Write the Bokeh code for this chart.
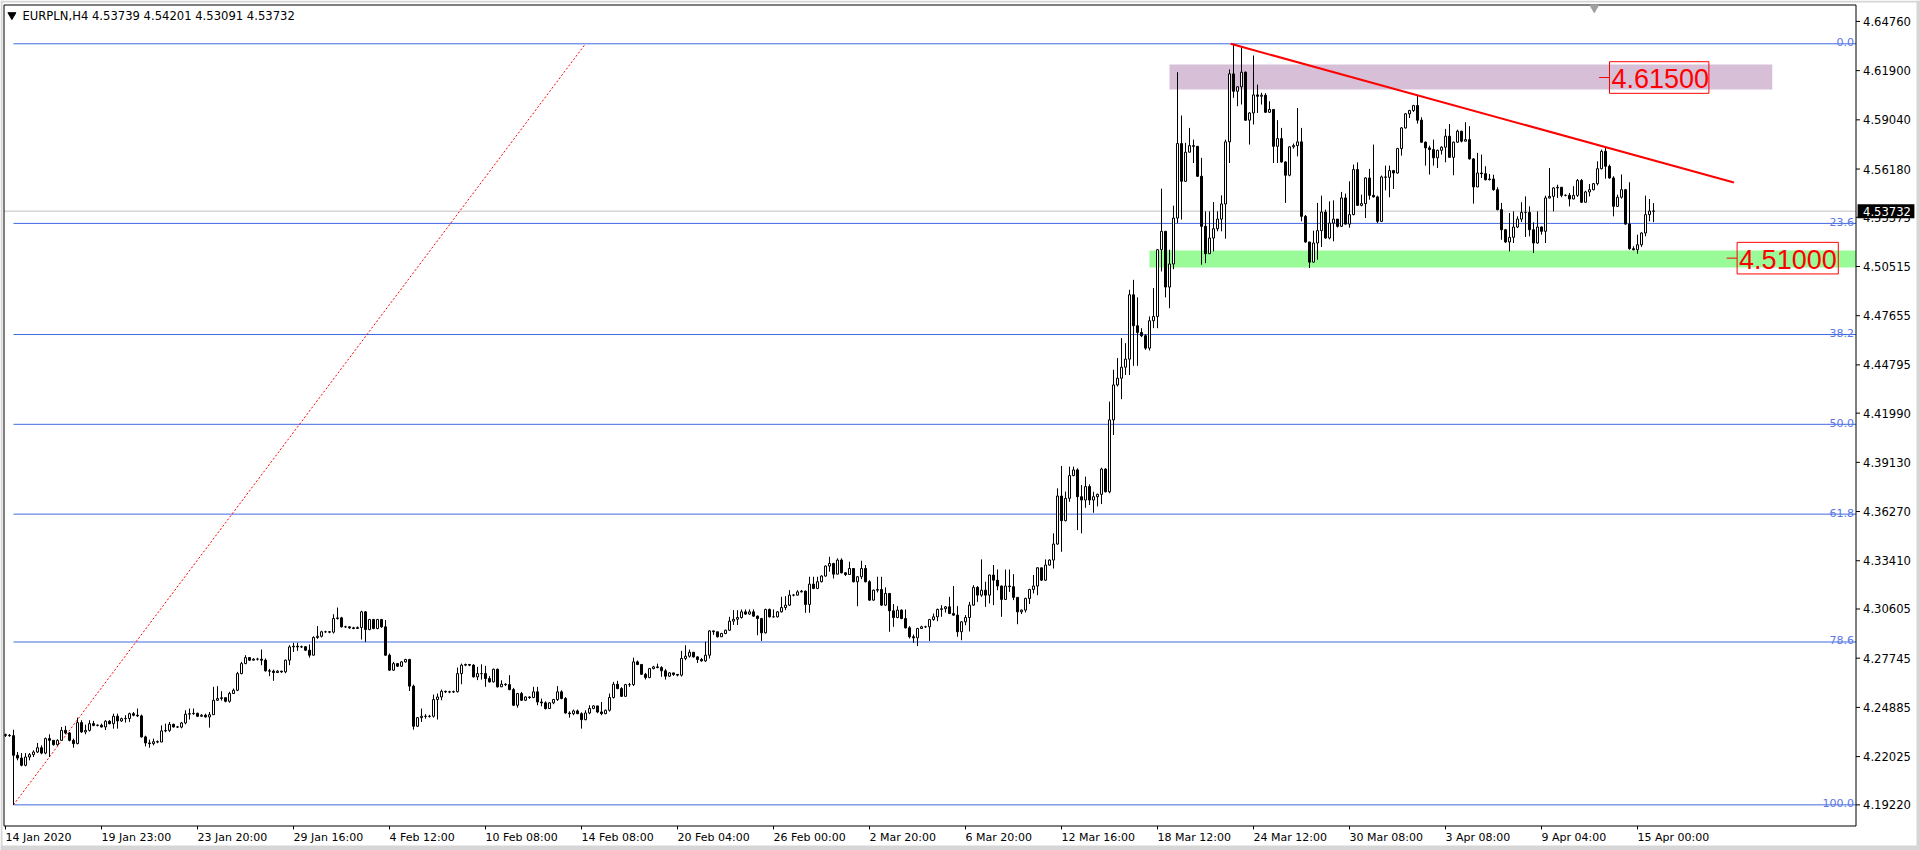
import numpy as np
from bokeh.plotting import figure
from bokeh.models import Range1d
from bokeh.core.properties import value
from bokeh.embed import file_html
from bokeh.resources import INLINE

# ---------------- data ----------------
SYMBOL = "EURPLN,H4"
first_open = 4.2330

close = [
    4.2326, 4.2324, 4.2210, 4.2194, 4.2152, 4.2200, 4.2214, 4.2229, 4.2254, 4.2223,  # 0
    4.2307, 4.2297, 4.2272, 4.2297, 4.2355, 4.2340, 4.2297, 4.2278, 4.2400, 4.2346,  # 10
    4.2355, 4.2394, 4.2384, 4.2385, 4.2375, 4.2408, 4.2394, 4.2437, 4.2410, 4.2423,  # 20
    4.2424, 4.2452, 4.2443, 4.2439, 4.2317, 4.2282, 4.2278, 4.2289, 4.2287, 4.2352,  # 30
    4.2355, 4.2390, 4.2375, 4.2374, 4.2398, 4.2449, 4.2452, 4.2454, 4.2437, 4.2443,  # 40
    4.2433, 4.2446, 4.2530, 4.2540, 4.2545, 4.2524, 4.2569, 4.2588, 4.2685, 4.2743,  # 50
    4.2778, 4.2763, 4.2769, 4.2769, 4.2763, 4.2701, 4.2699, 4.2691, 4.2699, 4.2695,  # 60
    4.2763, 4.2840, 4.2844, 4.2840, 4.2841, 4.2821, 4.2792, 4.2895, 4.2902, 4.2928,  # 70
    4.2928, 4.2926, 4.3005, 4.3009, 4.2957, 4.2957, 4.2951, 4.2947, 4.2953, 4.3044,  # 80
    4.2941, 4.2999, 4.2947, 4.2999, 4.2957, 4.2792, 4.2705, 4.2743, 4.2728, 4.2753,  # 90
    4.2767, 4.2612, 4.2379, 4.2429, 4.2437, 4.2436, 4.2437, 4.2534, 4.2549, 4.2582,  # 100
    4.2579, 4.2578, 4.2580, 4.2685, 4.2734, 4.2738, 4.2734, 4.2666, 4.2685, 4.2685,  # 110
    4.2656, 4.2637, 4.2710, 4.2608, 4.2623, 4.2621, 4.2592, 4.2501, 4.2569, 4.2530,  # 120
    4.2549, 4.2546, 4.2579, 4.2520, 4.2515, 4.2482, 4.2515, 4.2534, 4.2579, 4.2540,  # 130
    4.2456, 4.2452, 4.2468, 4.2452, 4.2417, 4.2456, 4.2482, 4.2497, 4.2462, 4.2452,  # 140
    4.2472, 4.2546, 4.2623, 4.2598, 4.2553, 4.2621, 4.2621, 4.2753, 4.2738, 4.2681,  # 150
    4.2662, 4.2714, 4.2724, 4.2720, 4.2701, 4.2670, 4.2689, 4.2680, 4.2676, 4.2773,  # 160
    4.2786, 4.2809, 4.2782, 4.2767, 4.2759, 4.2792, 4.2933, 4.2928, 4.2899, 4.2918,  # 170
    4.2937, 4.2990, 4.3001, 4.3011, 4.3044, 4.3031, 4.3044, 4.3019, 4.3005, 4.2922,  # 180
    4.3058, 4.3015, 4.3015, 4.3044, 4.3069, 4.3083, 4.3141, 4.3141, 4.3160, 4.3164,  # 190
    4.3087, 4.3205, 4.3180, 4.3219, 4.3252, 4.3310, 4.3325, 4.3263, 4.3345, 4.3271,  # 200
    4.3261, 4.3296, 4.3219, 4.3248, 4.3296, 4.3219, 4.3112, 4.3170, 4.3174, 4.3083,  # 210
    4.3151, 4.3050, 4.3011, 4.3054, 4.3005, 4.2951, 4.2899, 4.2893, 4.2947, 4.2957,  # 220
    4.2957, 4.2999, 4.3015, 4.3058, 4.3062, 4.3073, 4.3034, 4.3025, 4.2928, 4.2986,  # 230
    4.3011, 4.3083, 4.3186, 4.3141, 4.3170, 4.3141, 4.3258, 4.3228, 4.3194, 4.3116,  # 240
    4.3194, 4.3190, 4.3128, 4.3044, 4.3054, 4.3122, 4.3174, 4.3194, 4.3300, 4.3228,  # 250
    4.3316, 4.3345, 4.3438, 4.3717, 4.3574, 4.3704, 4.3836, 4.3869, 4.3713, 4.3694,  # 260
    4.3772, 4.3694, 4.3713, 4.3727, 4.3874, 4.3742, 4.4160, 4.4363, 4.4402, 4.4466,  # 270
    4.4513, 4.4887, 4.4707, 4.4668, 4.4649, 4.4577, 4.4736, 4.4761, 4.5149, 4.5256,  # 280
    4.4932, 4.5066, 4.5333, 4.5766, 4.5547, 4.5716, 4.5754, 4.5750, 4.5576, 4.5285,  # 290
    4.5126, 4.5217, 4.5271, 4.5327, 4.5415, 4.5776, 4.6171, 4.6070, 4.6096, 4.6181,  # 300
    4.5902, 4.5944, 4.6049, 4.6041, 4.6047, 4.5948, 4.5964, 4.5750, 4.5795, 4.5659,  # 310
    4.5582, 4.5747, 4.5754, 4.5776, 4.5343, 4.5194, 4.5077, 4.5188, 4.5260, 4.5368,  # 320
    4.5217, 4.5304, 4.5327, 4.5285, 4.5450, 4.5298, 4.5353, 4.5615, 4.5407, 4.5417,  # 330
    4.5566, 4.5465, 4.5456, 4.5314, 4.5572, 4.5570, 4.5609, 4.5595, 4.5737, 4.5857,  # 340
    4.5939, 4.5958, 4.5987, 4.5902, 4.5774, 4.5741, 4.5731, 4.5683, 4.5727, 4.5745,  # 350
    4.5809, 4.5686, 4.5774, 4.5838, 4.5780, 4.5789, 4.5677, 4.5514, 4.5595, 4.5591,  # 360
    4.5556, 4.5560, 4.5498, 4.5382, 4.5265, 4.5194, 4.5221, 4.5281, 4.5327, 4.5366,  # 370
    4.5366, 4.5265, 4.5188, 4.5281, 4.5256, 4.5450, 4.5459, 4.5508, 4.5512, 4.5465,  # 380
    4.5465, 4.5444, 4.5465, 4.5551, 4.5425, 4.5485, 4.5498, 4.5533, 4.5620, 4.5721,  # 390
    4.5634, 4.5566, 4.5401, 4.5454, 4.5498, 4.5298, 4.5155, 4.5149, 4.5178, 4.5246,  # 400
    4.5353, 4.53739, 4.53732,                                                         # 410
]

high = [
    4.2336, 4.2334, 4.2359, 4.2229, 4.2223, 4.2223, 4.2223, 4.2239, 4.2282, 4.2268,
    4.2313, 4.2332, 4.2297, 4.2303, 4.2375, 4.2381, 4.2346, 4.2307, 4.2429, 4.2414,
    4.2388, 4.2414, 4.2410, 4.2390, 4.2394, 4.2414, 4.2414, 4.2452, 4.2452, 4.2429,
    4.2443, 4.2458, 4.2462, 4.2482, 4.2447, 4.2324, 4.2301, 4.2307, 4.2297, 4.2384,
    4.2394, 4.2404, 4.2394, 4.2381, 4.2404, 4.2472, 4.2482, 4.2482, 4.2458, 4.2450,
    4.2452, 4.2462, 4.2608, 4.2612, 4.2583, 4.2545, 4.2579, 4.2598, 4.2695, 4.2753,
    4.2792, 4.2777, 4.2775, 4.2777, 4.2825, 4.2773, 4.2712, 4.2708, 4.2705, 4.2701,
    4.2767, 4.2850, 4.2864, 4.2864, 4.2848, 4.2844, 4.2854, 4.2902, 4.2961, 4.2934,
    4.2934, 4.2932, 4.3030, 4.3069, 4.3015, 4.2963, 4.2959, 4.2957, 4.2959, 4.3050,
    4.3048, 4.3003, 4.3003, 4.3003, 4.3003, 4.2996, 4.2802, 4.2753, 4.2747, 4.2757,
    4.2771, 4.2771, 4.2621, 4.2433, 4.2482, 4.2449, 4.2445, 4.2563, 4.2569, 4.2592,
    4.2586, 4.2585, 4.2586, 4.2720, 4.2743, 4.2743, 4.2741, 4.2740, 4.2724, 4.2739,
    4.2730, 4.2670, 4.2714, 4.2714, 4.2646, 4.2629, 4.2676, 4.2602, 4.2573, 4.2579,
    4.2553, 4.2553, 4.2608, 4.2608, 4.2540, 4.2524, 4.2518, 4.2538, 4.2612, 4.2588,
    4.2549, 4.2466, 4.2476, 4.2476, 4.2460, 4.2472, 4.2501, 4.2501, 4.2497, 4.2520,
    4.2476, 4.2569, 4.2637, 4.2643, 4.2606, 4.2625, 4.2631, 4.2778, 4.2761, 4.2741,
    4.2689, 4.2718, 4.2730, 4.2743, 4.2728, 4.2712, 4.2693, 4.2687, 4.2683, 4.2817,
    4.2850, 4.2825, 4.2809, 4.2786, 4.2776, 4.2870, 4.2937, 4.2934, 4.2918, 4.2922,
    4.2941, 4.3015, 4.3054, 4.3054, 4.3058, 4.3058, 4.3058, 4.3058, 4.3023, 4.3009,
    4.3062, 4.3063, 4.3058, 4.3048, 4.3131, 4.3135, 4.3170, 4.3148, 4.3170, 4.3171,
    4.3168, 4.3248, 4.3248, 4.3248, 4.3256, 4.3314, 4.3364, 4.3329, 4.3355, 4.3355,
    4.3271, 4.3335, 4.3294, 4.3252, 4.3341, 4.3316, 4.3228, 4.3174, 4.3248, 4.3248,
    4.3186, 4.3151, 4.3089, 4.3077, 4.3058, 4.3058, 4.2961, 4.2912, 4.2951, 4.2963,
    4.2963, 4.3003, 4.3034, 4.3063, 4.3083, 4.3077, 4.3131, 4.3194, 4.3077, 4.2990,
    4.3025, 4.3102, 4.3199, 4.3194, 4.3349, 4.3219, 4.3261, 4.3316, 4.3290, 4.3197,
    4.3290, 4.3290, 4.3263, 4.3126, 4.3058, 4.3126, 4.3178, 4.3258, 4.3304, 4.3300,
    4.3349, 4.3349, 4.3500, 4.3762, 4.3892, 4.3743, 4.3888, 4.3888, 4.3878, 4.3781,
    4.3830, 4.3785, 4.3742, 4.3731, 4.3882, 4.3878, 4.4266, 4.4451, 4.4519, 4.4635,
    4.4606, 4.4916, 4.4974, 4.4872, 4.4693, 4.4658, 4.4761, 4.4926, 4.5153, 4.5504,
    4.5254, 4.5149, 4.5405, 4.6181, 4.5929, 4.5770, 4.5857, 4.5789, 4.5719, 4.5683,
    4.5372, 4.5372, 4.5426, 4.5372, 4.5465, 4.5789, 4.6197, 4.6346, 4.6100, 4.6332,
    4.6185, 4.5948, 4.6278, 4.6109, 4.6061, 4.6059, 4.6012, 4.5952, 4.5902, 4.5857,
    4.5663, 4.5750, 4.5766, 4.5973, 4.5857, 4.5351, 4.5192, 4.5260, 4.5421, 4.5463,
    4.5382, 4.5430, 4.5436, 4.5292, 4.5485, 4.5475, 4.5547, 4.5644, 4.5657, 4.5469,
    4.5570, 4.5619, 4.5760, 4.5463, 4.5580, 4.5638, 4.5638, 4.5613, 4.5741, 4.5861,
    4.5943, 4.5962, 4.5991, 4.6045, 4.5919, 4.5778, 4.5754, 4.5789, 4.5731, 4.5750,
    4.5851, 4.5880, 4.5778, 4.5847, 4.5787, 4.5890, 4.5867, 4.5681, 4.5712, 4.5702,
    4.5634, 4.5589, 4.5585, 4.5512, 4.5421, 4.5269, 4.5362, 4.5372, 4.5343, 4.5425,
    4.5459, 4.5401, 4.5308, 4.5372, 4.5285, 4.5463, 4.5624, 4.5512, 4.5527, 4.5469,
    4.5471, 4.5479, 4.5518, 4.5560, 4.5560, 4.5492, 4.5531, 4.5537, 4.5663, 4.5731,
    4.5747, 4.5644, 4.5576, 4.5469, 4.5586, 4.5502, 4.5541, 4.5169, 4.5236, 4.5250,
    4.5463, 4.5444, 4.54201,
]

low = [
    4.2317, 4.2318, 4.1922, 4.2181, 4.2146, 4.2146, 4.2181, 4.2200, 4.2223, 4.2216,
    4.2216, 4.2200, 4.2266, 4.2266, 4.2297, 4.2332, 4.2291, 4.2254, 4.2274, 4.2340,
    4.2332, 4.2348, 4.2379, 4.2378, 4.2371, 4.2357, 4.2390, 4.2365, 4.2365, 4.2404,
    4.2400, 4.2404, 4.2437, 4.2433, 4.2313, 4.2262, 4.2254, 4.2268, 4.2280, 4.2287,
    4.2344, 4.2346, 4.2371, 4.2369, 4.2367, 4.2390, 4.2418, 4.2445, 4.2433, 4.2435,
    4.2429, 4.2371, 4.2445, 4.2526, 4.2528, 4.2518, 4.2516, 4.2569, 4.2583, 4.2681,
    4.2740, 4.2759, 4.2763, 4.2761, 4.2734, 4.2697, 4.2670, 4.2643, 4.2693, 4.2689,
    4.2687, 4.2734, 4.2811, 4.2817, 4.2834, 4.2817, 4.2778, 4.2792, 4.2887, 4.2895,
    4.2922, 4.2920, 4.2918, 4.2999, 4.2953, 4.2951, 4.2945, 4.2943, 4.2945, 4.2883,
    4.2869, 4.2937, 4.2943, 4.2943, 4.2951, 4.2788, 4.2701, 4.2701, 4.2724, 4.2724,
    4.2749, 4.2584, 4.2359, 4.2375, 4.2404, 4.2423, 4.2429, 4.2429, 4.2418, 4.2530,
    4.2572, 4.2571, 4.2573, 4.2575, 4.2623, 4.2728, 4.2728, 4.2662, 4.2647, 4.2650,
    4.2608, 4.2633, 4.2633, 4.2604, 4.2615, 4.2613, 4.2588, 4.2497, 4.2487, 4.2526,
    4.2526, 4.2538, 4.2542, 4.2501, 4.2495, 4.2476, 4.2482, 4.2507, 4.2526, 4.2536,
    4.2452, 4.2429, 4.2443, 4.2449, 4.2365, 4.2414, 4.2449, 4.2478, 4.2455, 4.2443,
    4.2449, 4.2464, 4.2540, 4.2594, 4.2549, 4.2549, 4.2608, 4.2613, 4.2734, 4.2678,
    4.2651, 4.2658, 4.2710, 4.2716, 4.2666, 4.2650, 4.2666, 4.2672, 4.2669, 4.2668,
    4.2763, 4.2778, 4.2778, 4.2747, 4.2755, 4.2753, 4.2773, 4.2910, 4.2895, 4.2899,
    4.2914, 4.2933, 4.2968, 4.2967, 4.3005, 4.3027, 4.3027, 4.3015, 4.2908, 4.2875,
    4.2918, 4.3011, 4.3011, 4.3011, 4.3040, 4.3054, 4.3079, 4.3134, 4.3139, 4.3157,
    4.3038, 4.3038, 4.3176, 4.3176, 4.3215, 4.3248, 4.3277, 4.3238, 4.3263, 4.3267,
    4.3252, 4.3259, 4.3215, 4.3077, 4.3234, 4.3215, 4.3108, 4.3108, 4.3157, 4.3079,
    4.3079, 4.2928, 4.2957, 4.3007, 4.3001, 4.2947, 4.2889, 4.2864, 4.2845, 4.2950,
    4.2950, 4.2875, 4.2992, 4.2990, 4.3015, 4.3040, 4.3031, 4.3021, 4.2899, 4.2879,
    4.2966, 4.2930, 4.3079, 4.3102, 4.3131, 4.3073, 4.3093, 4.3083, 4.3170, 4.3015,
    4.3118, 4.3160, 4.3112, 4.2972, 4.3031, 4.3040, 4.3089, 4.3151, 4.3141, 4.3224,
    4.3224, 4.3312, 4.3296, 4.3434, 4.3393, 4.3570, 4.3684, 4.3832, 4.3519, 4.3500,
    4.3649, 4.3665, 4.3620, 4.3657, 4.3671, 4.3738, 4.3733, 4.4072, 4.4354, 4.4280,
    4.4421, 4.4421, 4.4474, 4.4474, 4.4641, 4.4567, 4.4563, 4.4693, 4.4693, 4.5023,
    4.4872, 4.4809, 4.5036, 4.5304, 4.5324, 4.5543, 4.5717, 4.5653, 4.5572, 4.5062,
    4.5071, 4.5126, 4.5139, 4.5256, 4.5256, 4.5213, 4.5653, 4.6032, 4.5983, 4.5993,
    4.5898, 4.5760, 4.5877, 4.5944, 4.5993, 4.5944, 4.5944, 4.5653, 4.5653, 4.5655,
    4.5421, 4.5576, 4.5737, 4.5692, 4.5314, 4.5190, 4.5042, 4.5074, 4.5091, 4.5165,
    4.5213, 4.5209, 4.5198, 4.5278, 4.5281, 4.5295, 4.5277, 4.5349, 4.5403, 4.5401,
    4.5333, 4.5440, 4.5452, 4.5304, 4.5310, 4.5494, 4.5454, 4.5502, 4.5591, 4.5696,
    4.5853, 4.5915, 4.5950, 4.5882, 4.5770, 4.5638, 4.5586, 4.5638, 4.5624, 4.5702,
    4.5657, 4.5683, 4.5582, 4.5770, 4.5773, 4.5785, 4.5673, 4.5417, 4.5514, 4.5566,
    4.5552, 4.5552, 4.5492, 4.5378, 4.5207, 4.5188, 4.5139, 4.5188, 4.5275, 4.5310,
    4.5223, 4.5227, 4.5130, 4.5184, 4.5236, 4.5188, 4.5446, 4.5372, 4.5450, 4.5454,
    4.5459, 4.5401, 4.5442, 4.5456, 4.5421, 4.5478, 4.5459, 4.5494, 4.5523, 4.5616,
    4.5562, 4.5562, 4.5343, 4.5397, 4.5446, 4.5295, 4.5149, 4.5145, 4.5126, 4.5165,
    4.5227, 4.5314, 4.53091,
]

last_open = 4.53739

date_labels = ["14 Jan 2020", "19 Jan 23:00", "23 Jan 20:00", "29 Jan 16:00",
               "4 Feb 12:00", "10 Feb 08:00", "14 Feb 08:00", "20 Feb 04:00",
               "26 Feb 00:00", "2 Mar 20:00", "6 Mar 20:00", "12 Mar 16:00",
               "18 Mar 12:00", "24 Mar 12:00", "30 Mar 08:00", "3 Apr 08:00",
               "9 Apr 04:00", "15 Apr 00:00"]
bars_per_label = 24

price_ticks = [4.64760, 4.61900, 4.59040, 4.56180, 4.53375, 4.50515, 4.47655,
               4.44795, 4.41990, 4.39130, 4.36270, 4.33410, 4.30605, 4.27745,
               4.24885, 4.22025, 4.19220]

fib_levels = [0.0, 23.6, 38.2, 50.0, 61.8, 78.6, 100.0]
fib_high = 4.6346
fib_low = 4.1922
fib_low_bar = 2
fib_high_bar = 145

resistance_bars = [291, 441.7]
resistance_prices = [4.6080, 4.6226]
resistance_level = 4.61500
support_bars = [286, 462.6]
support_prices = [4.5045, 4.5144]
support_level = 4.51000

trend_bars = [306.3, 432.1]
trend_prices = [4.6346, 4.5540]

# ---------------- scales / layout constants ----------------
PRICE_PER_PX = 0.0005813      # vertical scale (4 px per bar horizontally)
X0, X1 = -1.25, 478.75        # whole canvas, in bars
Y1 = 4.65977                  # canvas top, in price
Y0 = Y1 - 850 * PRICE_PER_PX  # canvas bottom
AXIS_BAR = 462.625            # right price-scale line
FRAME_LEFT = -0.375
FRAME_TOP = Y1 - 4.5 * PRICE_PER_PX
FRAME_BOTTOM = Y1 - 825.5 * PRICE_PER_PX

# ---------------- derived candle geometry ----------------
n = len(close)
idx = np.arange(n)
opens = [first_open] + close[:-1]
opens[-1] = last_open
hi = [max(h, o, c) for h, o, c in zip(high, opens, close)]
lo = [min(l, o, c) for l, o, c in zip(low, opens, close)]
body_top = [max(o, c) for o, c in zip(opens, close)]
body_bot = [min(o, c) for o, c in zip(opens, close)]
body_fill = ["white" if c >= o else "black" for o, c in zip(opens, close)]

# ---------------- figure ----------------
p = figure(width=1920, height=850, output_backend="svg", toolbar_location=None,
           tools="", x_range=Range1d(X0, X1), y_range=Range1d(Y0, Y1),
           x_axis_location=None, y_axis_location=None,
           min_border_left=0, min_border_right=0, min_border_top=0,
           min_border_bottom=0)
p.grid.visible = False
p.outline_line_color = None
p.background_fill_color = "white"
p.border_fill_color = "white"

FONT = value("DejaVu Sans")

# window edges
edge = "#D6D6D6"
p.quad(left=[X0, X0, X1 - 1.0, X0], right=[X1, X0 + 0.5, X1, X1],
       bottom=[Y1 - 2 * PRICE_PER_PX, Y0, Y0, Y0],
       top=[Y1, Y1, Y1, Y0 + 5 * PRICE_PER_PX],
       fill_color=edge, line_color=None)

# zones
p.quad(left=[resistance_bars[0]], right=[resistance_bars[1]],
       bottom=[resistance_prices[0]], top=[resistance_prices[1]],
       fill_color="#D8BFD8", line_color=None)
p.quad(left=[support_bars[0]], right=[support_bars[1]],
       bottom=[support_prices[0]], top=[support_prices[1]],
       fill_color="#98FB98", line_color=None)

# current price line
p.segment(x0=[FRAME_LEFT], x1=[AXIS_BAR], y0=[close[-1]], y1=[close[-1]],
          line_color="#C0C0C0", line_width=1)

# fibonacci levels
fib_prices = [fib_high - lv / 100.0 * (fib_high - fib_low) for lv in fib_levels]
nf = len(fib_levels)
p.segment(x0=[fib_low_bar] * nf, x1=[AXIS_BAR] * nf, y0=fib_prices, y1=fib_prices,
          line_color="#4169E1", line_width=1)
p.text(x=[AXIS_BAR] * nf, y=[fp + 1.5 * PRICE_PER_PX for fp in fib_prices],
       text=[f"{lv:.1f}" for lv in fib_levels], x_offset=-2,
       text_align="right", text_baseline="alphabetic",
       text_font=FONT, text_font_size="11px", text_color="#5B78E6")
p.line([fib_low_bar, fib_high_bar], [fib_low, fib_high], line_color="red",
       line_dash="2 2", line_width=1)

# candles
p.segment(x0=idx, x1=idx, y0=lo, y1=hi, line_color="black", line_width=1)
p.vbar(x=idx, width=0.5, top=body_top, bottom=body_bot, fill_color=body_fill,
       line_color="black", line_width=1)

# trend line
p.line(trend_bars, trend_prices, line_color="red", line_width=2)

# price labels: anchor tick, red frame, red text
half_lbl = 15.8 * PRICE_PER_PX
for lvl, bx, width_bars in [(resistance_level, 398.4, 24.85),
                            (support_level, 430.3, 25.3)]:
    p.segment(x0=[bx], x1=[bx + 2.6], y0=[lvl], y1=[lvl], line_color="red",
              line_width=1)
    p.quad(left=[bx + 2.6], right=[bx + 2.6 + width_bars],
           bottom=[lvl - half_lbl], top=[lvl + half_lbl],
           fill_color=None, line_color="red", line_width=1)
    p.text(x=[bx + 2.6], y=[lvl], text=[f"{lvl:.5f}"], x_offset=2, y_offset=1,
           text_align="left", text_baseline="middle",
           text_font=value("Liberation Sans"), text_font_size="27px",
           text_color="red")

# chart frame
p.segment(x0=[FRAME_LEFT, FRAME_LEFT, FRAME_LEFT, AXIS_BAR],
          x1=[AXIS_BAR, AXIS_BAR, FRAME_LEFT, AXIS_BAR],
          y0=[FRAME_TOP, FRAME_BOTTOM, FRAME_TOP, FRAME_TOP],
          y1=[FRAME_TOP, FRAME_BOTTOM, FRAME_BOTTOM, FRAME_BOTTOM],
          line_color="black", line_width=1)

# chart-shift marker
p.scatter([397.2], [Y1 - 7 * PRICE_PER_PX], marker="inverted_triangle", size=9,
          fill_color="#A0A0A0", line_color="#A0A0A0")

# header
p.scatter([1.6], [Y1 - 14.5 * PRICE_PER_PX], marker="inverted_triangle", size=8,
          fill_color="black", line_color="black")
header = f"{SYMBOL}  {last_open:.5f} {high[-1]:.5f} {low[-1]:.5f} {close[-1]:.5f}"
p.text(x=[4.25], y=[Y1 - 15 * PRICE_PER_PX], text=[header], text_align="left",
       text_baseline="middle", text_font=FONT, text_font_size="11.6px",
       text_color="black")

# right price scale
nt = len(price_ticks)
p.segment(x0=[AXIS_BAR] * nt, x1=[AXIS_BAR + 1.0] * nt, y0=price_ticks,
          y1=price_ticks, line_color="black", line_width=1)
p.text(x=[AXIS_BAR] * nt, y=price_ticks, text=[f"{t:.5f}" for t in price_ticks],
       x_offset=7, text_align="left", text_baseline="middle", text_font=FONT,
       text_font_size="11.6px", text_color="black")

# current price box
half_box = 7 * PRICE_PER_PX
p.quad(left=[AXIS_BAR + 0.4], right=[AXIS_BAR + 14.6],
       bottom=[close[-1] - half_box], top=[close[-1] + half_box],
       fill_color="black", line_color=None)
p.text(x=[AXIS_BAR], y=[close[-1]], text=[f"{close[-1]:.5f}"], x_offset=7,
       text_align="left", text_baseline="middle", text_font=FONT,
       text_font_size="11.6px", text_color="white")

# bottom time scale
tick_bars = [i * bars_per_label for i in range(len(date_labels))]
ntb = len(tick_bars)
p.segment(x0=tick_bars, x1=tick_bars, y0=[FRAME_BOTTOM] * ntb,
          y1=[FRAME_BOTTOM - 3.5 * PRICE_PER_PX] * ntb,
          line_color="black", line_width=1)
p.text(x=tick_bars, y=[FRAME_BOTTOM - 11 * PRICE_PER_PX] * ntb, text=date_labels,
       text_align="left", text_baseline="middle", text_font=FONT,
       text_font_size="11px", text_color="black")

open("out.html", "w").write(file_html(p, INLINE, title="EURPLN,H4"))
